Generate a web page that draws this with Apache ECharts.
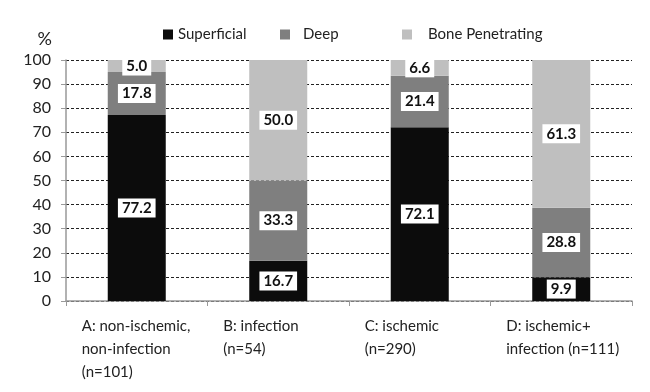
<!DOCTYPE html>
<html><head><meta charset="utf-8">
<script src="https://cdn.jsdelivr.net/npm/echarts@6/dist/echarts.min.js"></script>
<style>html,body{margin:0;padding:0;background:#fff}#c{width:650px;height:392px}</style>
</head><body><div id="c"></div>
<script>
var categories = ['A: non-ischemic,\nnon-infection\n(n=101)', 'B: infection\n(n=54)', 'C: ischemic\n(n=290)', 'D: ischemic+\ninfection (n=111)'];
var superficial = [77.2, 16.7, 72.1, 9.9];
var deep = [17.8, 33.3, 21.4, 28.8];
var bone = [5.0, 50.0, 6.6, 61.3];
var seriesNames = ['Superficial', 'Deep', 'Bone Penetrating'];
var yTicks = [0, 10, 20, 30, 40, 50, 60, 70, 80, 90, 100];

var FONT = 'Lato';
var chart = echarts.init(document.getElementById('c'), null, {renderer: 'canvas'});
function barLabel() {
  return {
    show: true, position: 'inside',
    formatter: function (p) { return p.value.toFixed(1); },
    backgroundColor: '#fff', color: '#111', fontWeight: 'bold',
    fontFamily: FONT, fontSize: 15, padding: [3, 4, 1, 4]
  };
}
var colors = ['#0c0c0c', '#7f7f7f', '#bfbfbf'];
var vals = [superficial, deep, bone];
var series = seriesNames.map(function (n, i) {
  return {
    name: n, type: 'bar', stack: 's', barWidth: '41%',
    data: vals[i], itemStyle: {color: colors[i]}, label: barLabel()
  };
});
function legend(i, left, pad) {
  return {
    data: [seriesNames[i]], left: left, top: 22, icon: 'rect',
    itemWidth: 10, itemHeight: 10, selectedMode: false,
    textStyle: {fontFamily: FONT, fontSize: 15, color: '#222', padding: [0, 0, 0, pad]}
  };
}
chart.setOption({
  animation: false,
  color: colors,
  legend: [legend(0, 158, 0), legend(1, 275, 8), legend(2, 397, 11)],
  grid: {left: 66, right: 18, top: 60, bottom: 91, containLabel: false, outerBoundsMode: 'none'},
  xAxis: {
    type: 'category', data: categories,
    axisLine: {lineStyle: {color: '#999', width: 1.5}},
    axisTick: {show: true, length: 5, lineStyle: {color: '#999'}},
    axisLabel: {
      interval: 0, margin: 14, color: '#222', fontFamily: FONT, fontSize: 15,
      formatter: function (v) {
        return v.split('\n').map(function (l) { return '{a|' + l + '}'; }).join('\n');
      },
      rich: {a: {width: 110, align: 'left', lineHeight: 23, fontFamily: FONT, fontSize: 15, color: '#222'}}
    }
  },
  yAxis: {
    type: 'value', min: yTicks[0], max: yTicks[yTicks.length - 1], interval: 10,
    name: '%', nameLocation: 'end', nameGap: 12,
    nameTextStyle: {fontFamily: FONT, fontSize: 18, color: '#222', align: 'right', padding: [0, 14, 0, 0]},
    axisLine: {show: true, lineStyle: {color: '#999', width: 1.5}},
    axisTick: {show: true, length: 5, lineStyle: {color: '#999'}},
    axisLabel: {margin: 15, color: '#222', fontFamily: FONT, fontSize: 16},
    splitLine: {show: true, lineStyle: {color: '#222', type: [3, 2], width: 1}}
  },
  series: series
});
</script></body></html>
